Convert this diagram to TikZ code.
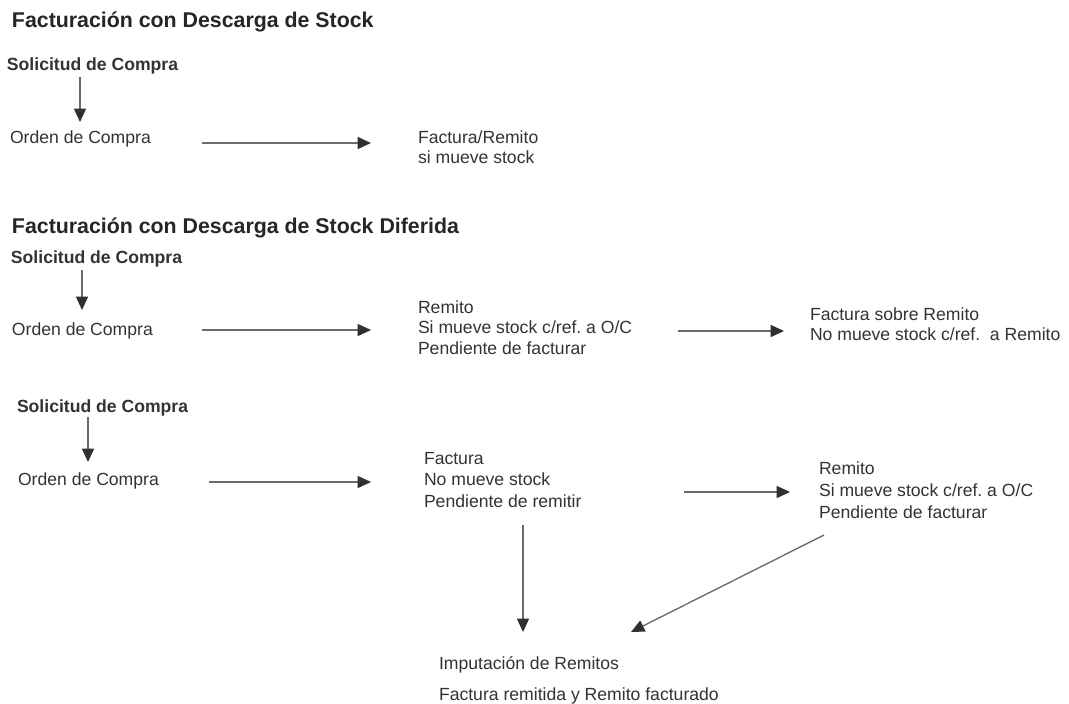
\documentclass[tikz,border=0pt]{standalone}
\usepackage{fontspec}
\setmainfont{Liberation Sans}
\usetikzlibrary{arrows.meta}
\definecolor{txt}{HTML}{333333}
\definecolor{ttl}{HTML}{262626}
\definecolor{ln}{HTML}{6A6A6A}
\definecolor{hd}{HTML}{303030}
\frenchspacing
\begin{document}
\begin{tikzpicture}[x=0.75pt,y=-0.75pt,
  lbl/.style={anchor=base west,inner sep=0pt,outer sep=0pt,text=txt,font=\fontsize{13.2}{15.5}\selectfont},
  blbl/.style={lbl,font=\fontsize{13.2}{15.5}\selectfont\bfseries},
  ttlbl/.style={anchor=base west,inner sep=0pt,outer sep=0pt,text=ttl,font=\fontsize{16}{19}\selectfont\bfseries},
  arr/.style={draw=ln,line width=1pt,-{Triangle[length=10pt,width=9pt,color=hd]}}]
\useasboundingbox[fill=white] (0,0) rectangle (1069,703);

% Section 1
\node[ttlbl] (t1) at (12,27) {Facturación con Descarga de Stock};
\node[blbl] (sol1) at (7,70) {Solicitud de Compra};
\node[lbl] (ord1) at (10,143) {Orden de Compra};
\node[lbl] (fr1) at (418,143) {Factura/Remito};
\node[lbl] (fr2) at (418,163) {si mueve stock};

\draw[arr] ([shift={(73,7)}]sol1.base west) -- ([shift={(70,-21)}]ord1.base west);
\draw[arr] ([shift={(192,0)}]ord1.base west) -- ([shift={(-47,0)}]fr1.base west);

% Section 2
\node[ttlbl] (t2) at (12,233) {Facturación con Descarga de Stock Diferida};
\node[blbl] (sol2) at (11,263) {Solicitud de Compra};
\node[lbl] (ord2) at (12,335) {Orden de Compra};
\node[lbl] (rem2a) at (418,313) {Remito};
\node[lbl] (rem2b) at (418,333) {Si mueve stock c/ref. a O/C};
\node[lbl] (rem2c) at (418,354) {Pendiente de facturar};
\node[lbl] (fs1) at (810,320) {Factura sobre Remito};
\node[lbl] (fs2) at (810,340) {No mueve stock c/ref.\ \ a Remito};

\draw[arr] ([shift={(71,7)}]sol2.base west) -- ([shift={(70,-25)}]ord2.base west);
\draw[arr] ([shift={(190,-5)}]ord2.base west) -- ([shift={(-47,-3)}]rem2b.base west);
\draw[arr] ([shift={(260,-2)}]rem2b.base west) -- ([shift={(-26,11)}]fs1.base west);

% Section 3
\node[blbl] (sol3) at (17,412) {Solicitud de Compra};
\node[lbl] (ord3) at (18,485) {Orden de Compra};
\node[lbl] (fac3a) at (424,464) {Factura};
\node[lbl] (fac3b) at (424,485) {No mueve stock};
\node[lbl] (fac3c) at (424,507) {Pendiente de remitir};
\node[lbl] (rem3a) at (819,474) {Remito};
\node[lbl] (rem3b) at (819,496) {Si mueve stock c/ref. a O/C};
\node[lbl] (rem3c) at (819,518) {Pendiente de facturar};
\node[lbl] (imp) at (439,669) {Imputación de Remitos};
\node[lbl] (frf) at (439,700) {Factura remitida y Remito facturado};

\draw[arr] ([shift={(71,5)}]sol3.base west) -- ([shift={(70,-23)}]ord3.base west);
\draw[arr] ([shift={(191,-3)}]ord3.base west) -- ([shift={(-53,-3)}]fac3b.base west);
\draw[arr] ([shift={(260,7)}]fac3b.base west) -- ([shift={(-29,-4)}]rem3b.base west);
\draw[arr] ([shift={(99,18)}]fac3c.base west) -- ([shift={(84,-37)}]imp.base west);
\draw[arr] ([shift={(5,17)}]rem3c.base west) -- ([shift={(192,-37)}]imp.base west);
\end{tikzpicture}
\end{document}
